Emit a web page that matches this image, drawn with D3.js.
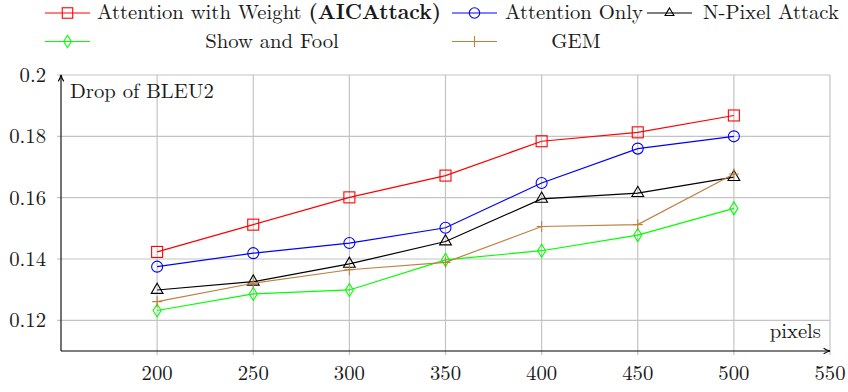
<!DOCTYPE html>
<html>
<head>
<meta charset="utf-8">
<script src="https://cdn.jsdelivr.net/npm/d3@7"></script>
<style>
  body { margin: 0; background: #fff; }
</style>
</head>
<body>
<script>
// data
var pixels = [200, 250, 300, 350, 400, 450, 500];
var aicAttack   = [0.1423, 0.1512, 0.1601, 0.1672, 0.1784, 0.1813, 0.1868];
var attnOnly    = [0.1375, 0.1419, 0.1452, 0.1502, 0.1648, 0.1760, 0.1800];
var nPixel      = [0.1299, 0.1326, 0.1384, 0.1457, 0.1596, 0.1615, 0.1667];
var showFool    = [0.1232, 0.1286, 0.1299, 0.1397, 0.1427, 0.1478, 0.1565];
var gem         = [0.1261, 0.1321, 0.1365, 0.1389, 0.1506, 0.1512, 0.1677];
var xTicks = [200, 250, 300, 350, 400, 450, 500, 550];
var yTicks = [0.12, 0.14, 0.16, 0.18, 0.2];

var series = [
  {name: "Attention with Weight ", bold: "(AICAttack)", vals: aicAttack, color: "#ff0000", mark: "square"},
  {name: "Attention Only", vals: attnOnly, color: "#0000ff", mark: "circle"},
  {name: "N-Pixel Attack", vals: nPixel, color: "#000000", mark: "triangle"},
  {name: "Show and Fool", vals: showFool, color: "#00ff00", mark: "diamond"},
  {name: "GEM", vals: gem, color: "#bf8040", mark: "plus"}
];

var W = 848, H = 392, FS = "20.7px";
var svg = d3.select("body").append("svg").attr("width", W).attr("height", H)
  .attr("font-family", "'Latin Modern Roman', 'DejaVu Serif', serif").attr("fill", "#1a1a1a");

var x = d3.scaleLinear().domain([150, 550]).range([61, 830]);
var y = d3.scaleLinear().domain([0.11, 0.2]).range([351, 75]);

// grid
svg.append("g").selectAll("line").data(xTicks).enter().append("line")
  .attr("x1", d => x(d)).attr("x2", d => x(d))
  .attr("y1", y(0.11) + 4).attr("y2", y(0.2))
  .attr("stroke", "#c4c4c4").attr("stroke-width", 1.2);
svg.append("g").selectAll("line").data(yTicks).enter().append("line")
  .attr("x1", x(150) - 4).attr("x2", x(550))
  .attr("y1", d => y(d)).attr("y2", d => y(d))
  .attr("stroke", "#c4c4c4").attr("stroke-width", 1.2);

// axes with arrows
svg.append("defs").append("marker").attr("id", "arr")
  .attr("viewBox", "0 0 10 10").attr("refX", 9).attr("refY", 5)
  .attr("markerWidth", 8).attr("markerHeight", 8).attr("orient", "auto")
  .attr("markerUnits", "userSpaceOnUse")
  .append("path").attr("d", "M1,1.5 Q5,4 9,5 Q5,6 1,8.5").attr("fill", "none")
  .attr("stroke", "#000").attr("stroke-width", 1.3);
svg.append("line").attr("x1", x(150)).attr("y1", y(0.11)).attr("x2", x(550)).attr("y2", y(0.11))
  .attr("stroke", "#000").attr("stroke-width", 1.1).attr("marker-end", "url(#arr)");
svg.append("line").attr("x1", x(150)).attr("y1", y(0.11)).attr("x2", x(150)).attr("y2", y(0.2))
  .attr("stroke", "#000").attr("stroke-width", 1.1).attr("marker-end", "url(#arr)");

// tick labels
svg.append("g").selectAll("text").data(xTicks).enter().append("text")
  .attr("x", d => x(d)).attr("y", 380).attr("text-anchor", "middle")
  .style("font-size", FS).text(d => d);
svg.append("g").selectAll("text").data(yTicks).enter().append("text")
  .attr("x", 46).attr("y", d => y(d) + 7).attr("text-anchor", "end")
  .style("font-size", FS).text(d => d3.format("")(d));

svg.append("text").attr("x", 70).attr("y", 98).style("font-size", FS).text("Drop of BLEU2");
svg.append("text").attr("x", 821).attr("y", 338).attr("text-anchor", "end").style("font-size", FS).text("pixels");

function drawMark(g, type, color, k) {
  k = k || 1;
  if (type === "square") g.append("rect").attr("x", -5.5 * k).attr("y", -5.5 * k).attr("width", 11 * k).attr("height", 11 * k);
  else if (type === "circle") g.append("circle").attr("r", 5.5 * k);
  else if (type === "triangle") g.append("path").attr("d", d3.symbol(d3.symbolTriangle, 60 * k * k)());
  else if (type === "diamond") g.append("path").attr("d", "M0," + (-6.5 * k) + " L" + (4 * k) + ",0 L0," + (6.5 * k) + " L" + (-4 * k) + ",0 Z");
  else if (type === "plus") g.append("path").attr("d", "M-5,0 L5,0 M0,-5.5 L0,5.5");
  g.selectAll("*").attr("fill", "none").attr("stroke", color).attr("stroke-width", 1.1);
}

var line = d3.line().x((d, i) => x(pixels[i])).y(d => y(d));
series.forEach(function(s) {
  svg.append("path").datum(s.vals).attr("d", line)
    .attr("fill", "none").attr("stroke", s.color).attr("stroke-width", 1.2);
  s.vals.forEach(function(v, i) {
    var g = svg.append("g").attr("transform", "translate(" + x(pixels[i]) + "," + y(v) + ")");
    drawMark(g, s.mark, s.color);
  });
});

// legend: 3 columns, 2 rows
var legendPos = [
  {sx: 45, tx: 97, cx: 272, row: 0},
  {sx: 452, tx: 505, cx: 572, row: 0},
  {sx: 647, tx: 703, cx: 771, row: 0},
  {sx: 45, tx: 97, cx: 272, row: 1},
  {sx: 452, tx: 505, cx: 576, row: 1}
];
series.forEach(function(s, i) {
  var p = legendPos[i];
  var cy = p.row === 0 ? 13 : 41.5;
  svg.append("line").attr("x1", p.sx).attr("x2", p.sx + 45).attr("y1", cy).attr("y2", cy)
    .attr("stroke", s.color).attr("stroke-width", 1.2);
  drawMark(svg.append("g").attr("transform", "translate(" + (p.sx + 22.5) + "," + cy + ")"), s.mark, s.color, s.mark === "triangle" ? 0.75 : 0.95);
  var t = svg.append("text").attr("y", cy + 6).style("font-size", FS);
  if (p.row === 0) t.attr("x", p.tx);
  else t.attr("x", p.cx).attr("text-anchor", "middle");
  t.append("tspan").text(s.name);
  if (s.bold) t.append("tspan").attr("font-weight", "bold").text(s.bold);
});
</script>
</body>
</html>
